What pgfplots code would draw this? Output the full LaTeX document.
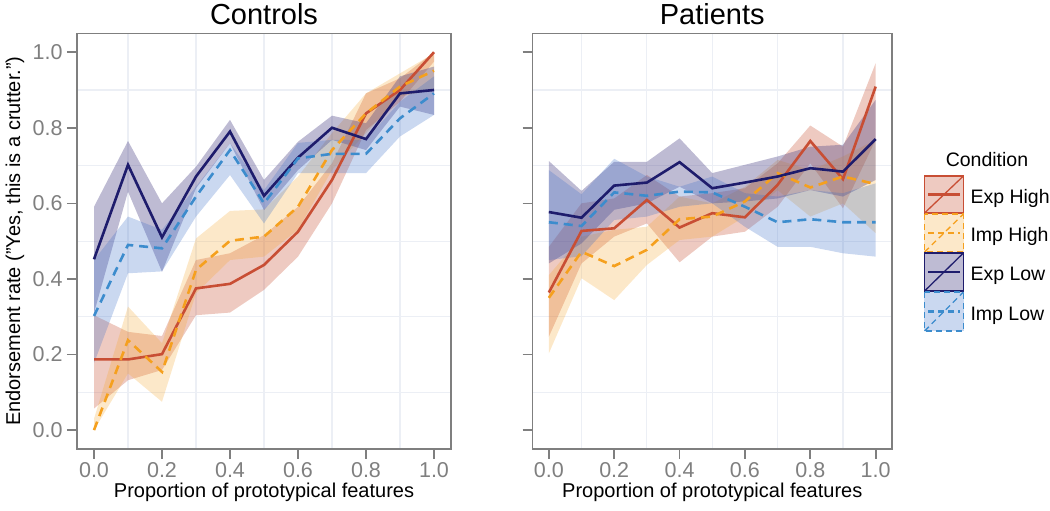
\documentclass[border=0pt]{standalone}
\usepackage{fontspec}
\setmainfont{Liberation Sans}
\usepackage{pgfplots}
\usepackage{pgfplotstable}
\pgfplotsset{compat=1.18}
\usepgfplotslibrary{fillbetween}

\definecolor{ehc}{RGB}{200,78,52}
\definecolor{ihc}{RGB}{245,160,30}
\definecolor{elc}{RGB}{30,28,108}
\definecolor{ilc}{RGB}{60,140,205}
\definecolor{ehf}{RGB}{200,80,50}
\definecolor{ihf}{RGB}{245,165,40}
\definecolor{elf}{RGB}{70,60,130}
\definecolor{ilf}{RGB}{60,110,200}
\definecolor{axgrey}{RGB}{127,127,127}
\definecolor{gridc}{RGB}{236,239,245}

% Controls
\pgfplotstableread{
x m lo hi
0.0 0.187 0.057 0.304
0.1 0.187 0.132 0.260
0.2 0.201 0.159 0.249
0.3 0.375 0.304 0.450
0.4 0.387 0.311 0.468
0.5 0.437 0.371 0.516
0.6 0.525 0.459 0.591
0.7 0.662 0.600 0.706
0.8 0.838 0.794 0.891
0.9 0.900 0.869 0.931
1.0 1.000 0.975 1.000
}\cEH
\pgfplotstableread{
x m lo hi
0.0 0.000 0.000 0.030
0.1 0.238 0.150 0.327
0.2 0.154 0.075 0.230
0.3 0.424 0.362 0.507
0.4 0.501 0.450 0.580
0.5 0.512 0.459 0.584
0.6 0.591 0.530 0.671
0.7 0.741 0.688 0.786
0.8 0.838 0.786 0.891
0.9 0.909 0.883 0.944
1.0 0.951 0.900 0.997
}\cIH
\pgfplotstableread{
x m lo hi
0.0 0.452 0.310 0.591
0.1 0.702 0.631 0.765
0.2 0.510 0.419 0.600
0.3 0.671 0.640 0.697
0.4 0.790 0.759 0.821
0.5 0.620 0.582 0.662
0.6 0.721 0.688 0.763
0.7 0.800 0.768 0.832
0.8 0.770 0.741 0.812
0.9 0.891 0.856 0.936
1.0 0.900 0.834 0.962
}\cEL
\pgfplotstableread{
x m lo hi
0.0 0.302 0.177 0.450
0.1 0.490 0.415 0.565
0.2 0.481 0.420 0.530
0.3 0.618 0.565 0.644
0.4 0.741 0.675 0.759
0.5 0.600 0.547 0.635
0.6 0.719 0.680 0.760
0.7 0.731 0.680 0.768
0.8 0.731 0.680 0.768
0.9 0.825 0.777 0.869
1.0 0.891 0.834 0.936
}\cIL
% Patients
\pgfplotstableread{
x m lo hi
0.0 0.364 0.247 0.485
0.1 0.527 0.441 0.600
0.2 0.534 0.512 0.613
0.3 0.609 0.547 0.675
0.4 0.536 0.444 0.618
0.5 0.574 0.512 0.627
0.6 0.563 0.525 0.640
0.7 0.649 0.591 0.706
0.8 0.765 0.706 0.806
0.9 0.664 0.587 0.750
1.0 0.909 0.768 0.971
}\pEH
\pgfplotstableread{
x m lo hi
0.0 0.350 0.203 0.410
0.1 0.472 0.402 0.512
0.2 0.434 0.344 0.530
0.3 0.477 0.437 0.538
0.4 0.558 0.503 0.618
0.5 0.565 0.512 0.600
0.6 0.605 0.565 0.644
0.7 0.680 0.635 0.715
0.8 0.642 0.565 0.688
0.9 0.671 0.600 0.724
1.0 0.651 0.521 0.768
}\pIH
\pgfplotstableread{
x m lo hi
0.0 0.577 0.441 0.712
0.1 0.562 0.494 0.633
0.2 0.647 0.583 0.710
0.3 0.655 0.600 0.710
0.4 0.709 0.644 0.772
0.5 0.640 0.600 0.680
0.6 0.655 0.605 0.702
0.7 0.671 0.613 0.724
0.8 0.693 0.635 0.750
0.9 0.684 0.618 0.755
1.0 0.770 0.662 0.874
}\pEL
\pgfplotstableread{
x m lo hi
0.0 0.550 0.450 0.688
0.1 0.540 0.460 0.624
0.2 0.629 0.556 0.718
0.3 0.620 0.565 0.671
0.4 0.631 0.591 0.644
0.5 0.629 0.600 0.671
0.6 0.591 0.538 0.627
0.7 0.550 0.485 0.618
0.8 0.558 0.485 0.635
0.9 0.550 0.468 0.627
1.0 0.550 0.459 0.653
}\pIL

\pgfplotsset{
  myax/.style={
    scale only axis,
    height=415.7pt,
    xmin=-0.05, xmax=1.05, ymin=-0.05, ymax=1.05,
    xtick={0,0.2,0.4,0.6,0.8,1},
    ytick={0,0.2,0.4,0.6,0.8,1},
    minor xtick={0.1,0.3,0.5,0.7,0.9},
    minor ytick={0.1,0.3,0.5,0.7,0.9},
    xminorgrids, yminorgrids,
    minor grid style={gridc, line width=1.2pt},
    minor tick length=0pt,
    major tick length=10pt,
    tick align=outside,
    tick pos=left,
    major tick style={axgrey, line width=1.7pt},
    axis line style={axgrey, line width=1.5pt},
    /pgf/number format/.cd, fixed, fixed zerofill, precision=1, assume math mode=true,
    /pgfplots/.cd,
    tick label style={font=\fontsize{21.5}{24}\selectfont, text=axgrey},
    xticklabel style={anchor=base, inner sep=0pt, yshift=-18.6pt},
    yticklabel style={xshift=-1pt},
    title style={font=\fontsize{29}{32}\selectfont, at={(axis description cs:0.5,1)}, anchor=base, yshift=2.4pt},
    xlabel style={font=\fontsize{20}{24}\selectfont, at={(axis description cs:0.5,0)}, anchor=base, inner sep=0pt, yshift=-48.5pt},
    xlabel={Proportion of prototypical features},
  },
  mline/.style={line width=2.6pt},
  mdash/.style={line width=2.6pt, dash pattern=on 9pt off 6pt},
}

\newcommand{\series}[4]{% table, name, fillcolor, opacity
  \addplot[name path=#2hi, draw=none, forget plot] table[x=x,y=hi]{#1};
  \addplot[name path=#2lo, draw=none, forget plot] table[x=x,y=lo]{#1};
  \addplot[fill=#3, fill opacity=#4, draw=none, forget plot] fill between[of=#2hi and #2lo];
}

\begin{document}
\begin{tikzpicture}

\begin{axis}[myax, at={(77pt,62pt)}, anchor=south west, width=374pt,
  title={Controls},
  ylabel={Endorsement rate ("Yes, this is a crutter.")},
  ylabel style={font=\fontsize{20}{24}\selectfont, at={(axis description cs:-0.152,0.5)}, anchor=base},
]
\series{\cEH}{ceh}{ehf}{0.3}
\series{\cIH}{cih}{ihf}{0.25}
\series{\cEL}{cel}{elf}{0.35}
\series{\cIL}{cil}{ilf}{0.27}
\addplot[ehc, mline] table[x=x,y=m]{\cEH};
\addplot[ihc, mdash] table[x=x,y=m]{\cIH};
\addplot[elc, mline] table[x=x,y=m]{\cEL};
\addplot[ilc, mdash] table[x=x,y=m]{\cIL};
\end{axis}

\begin{axis}[myax, at={(532.5pt,62pt)}, anchor=south west, width=359.5pt,
  title={Patients}, yticklabels={},
]
\series{\pEH}{peh}{ehf}{0.3}
\series{\pIH}{pih}{ihf}{0.25}
\series{\pEL}{pel}{elf}{0.35}
\series{\pIL}{pil}{ilf}{0.27}
\addplot[ehc, mline] table[x=x,y=m]{\pEH};
\addplot[ihc, mdash] table[x=x,y=m]{\pIH};
\addplot[elc, mline] table[x=x,y=m]{\pEL};
\addplot[ilc, mdash] table[x=x,y=m]{\pIL};
\end{axis}

% legend
\node[anchor=base, font=\fontsize{19.5}{22}\selectfont] at (987pt,344.3pt) {Condition};
\def\legkey#1#2#3#4#5#6{% ytop ybot line fill opac dash
  \fill[#4, opacity=#5] (924pt,#1) rectangle (964pt,#2);
  \draw[#3, line width=1.3pt, #6] (924.6pt,#1) rectangle (963.4pt,#2);
  \draw[#3, line width=2.4pt, #6] (928pt,{(#1+#2)/2}) -- (960pt,{(#1+#2)/2});
  \draw[#3, line width=1.3pt, #6] (924.6pt,#2) -- (963.4pt,#1);
}
\legkey{335pt}{298pt}{ehc}{ehf}{0.3}{solid}
\legkey{297pt}{259pt}{ihc}{ihf}{0.25}{dash pattern=on 6pt off 4pt}
\legkey{258pt}{220pt}{elc}{elf}{0.35}{solid}
\legkey{219pt}{180pt}{ilc}{ilf}{0.27}{dash pattern=on 6pt off 4pt}
\begin{scope}[every node/.style={anchor=base west, font=\fontsize{19.5}{22}\selectfont}]
\node at (967pt,307.7pt) {Exp High};
\node at (967pt,269.2pt) {Imp High};
\node at (967pt,230.2pt) {Exp Low};
\node at (967pt,190.7pt) {Imp Low};
\end{scope}

\pgfresetboundingbox
\path[use as bounding box] (0,0) rectangle (1050pt,511pt);
\end{tikzpicture}
\end{document}
